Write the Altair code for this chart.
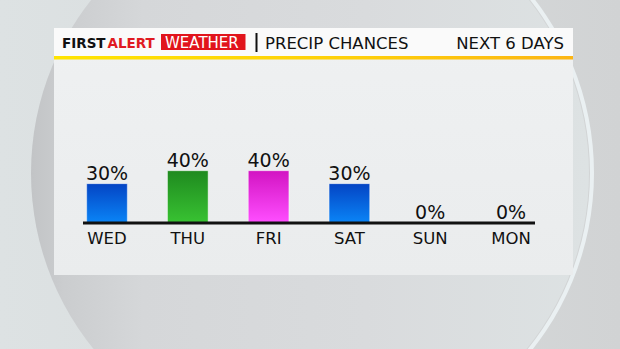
import altair as alt
import pandas as pd

# ---- data ----
days = ["WED", "THU", "FRI", "SAT", "SUN", "MON"]
chances = [30, 40, 40, 30, 0, 0]
color_group = ["blue", "green", "pink", "blue", "blue", "blue"]
brand_parts = ["FIRST", "ALERT", "WEATHER"]
title_text = "PRECIP CHANCES"
range_text = "NEXT 6 DAYS"

FONT = "DejaVu Sans"

df = pd.DataFrame({
    "day": days,
    "chance": chances,
    "label": [f"{c}%" for c in chances],
    "group": color_group,
})
one = pd.DataFrame({"k": [0]})


def grad(stops, horizontal=False):
    return alt.Gradient(
        gradient="linear",
        stops=[alt.GradientStop(color=c, offset=o) for o, c in stops],
        x1=0, y1=0,
        x2=1 if horizontal else 0,
        y2=0 if horizontal else 1,
    )


def box(x1, x2, y1, y2, fill):
    return alt.Chart(one).mark_rect(fill=fill).encode(
        x=alt.value(x1), x2=alt.value(x2), y=alt.value(y1), y2=alt.value(y2)
    )


def label(text, x, y, size, color="#111111", weight="normal", align="left"):
    return alt.Chart(one).mark_text(
        text=text, font=FONT, fontSize=size, fontWeight=weight, color=color,
        align=align, baseline="alphabetic",
    ).encode(x=alt.value(x), y=alt.value(y))


# ---- backdrop ----
background = box(0, 620, 0, 349, grad([(0, "#dde2e3"), (0.5, "#d8dcdd"), (1, "#d1d3d4")], True))

disc = alt.Chart(one).mark_arc(
    radius=279,
    fill=grad([(0, "#c2c4c6"), (0.06, "#cbcdcf"), (0.2, "#d5d7d9"),
               (0.6, "#d9dbdd"), (1, "#dde2e3")], True),
).encode(x=alt.value(310), y=alt.value(173),
         theta=alt.value(0), theta2=alt.value(6.2832))

rim = alt.Chart(one).mark_arc(
    radius=280, radius2=284,
    fill=grad([(0, "rgba(234,240,242,0)"), (0.6, "rgba(234,240,242,0)"),
               (0.85, "rgba(234,240,242,1)"), (1, "rgba(234,240,242,1)")], True),
).encode(x=alt.value(310), y=alt.value(173),
         theta=alt.value(0), theta2=alt.value(6.2832))

panel = box(54, 573, 28, 275, grad([(0, "#eff1f2"), (1, "#eaeced")]))
header = box(54, 573, 28, 56, "#fafafa")
stripe = box(54, 573, 56, 59.5, grad([(0, "#ffe400"), (0.6, "#fece0a"), (1, "#fcb514")], True))
red_box = box(161, 245.5, 34, 50, "#e1141c")
divider = box(255.5, 257.5, 33, 52, "#111111")

texts = [
    label(brand_parts[0], 62, 47.8, 13.5, weight="bold"),
    label(brand_parts[1], 107.5, 47.8, 13.5, color="#e01a22", weight="bold"),
    label(brand_parts[2], 165, 47.5, 15, color="#ffffff"),
    label(title_text, 265, 49, 16.5),
    label(range_text, 564, 49, 16.5, align="right"),
]

# ---- chart ----
x_scale = alt.Scale(domain=days, range=[66.6, 551.4], paddingInner=0.497, paddingOuter=0.2485)
y_scale = alt.Scale(domain=[0, 100], range=[222.5, 93])
x_enc = alt.X("day:N", sort=days, axis=None, scale=x_scale)
y_enc = alt.Y("chance:Q", axis=None, scale=y_scale)

bar_fills = {
    "blue": grad([(0, "#0444c4"), (1, "#0a84f6")]),
    "green": grad([(0, "#1f8a1f"), (1, "#38c232")]),
    "pink": grad([(0, "#d214c2"), (1, "#ff4eff")]),
}

base = alt.Chart(df)
bars = [
    base.transform_filter(alt.datum.group == g).transform_filter(alt.datum.chance > 0)
    .mark_bar(fill=f, stroke="#ffffff", strokeOpacity=0.45, strokeWidth=1)
    .encode(x=x_enc, y=y_enc)
    for g, f in bar_fills.items()
]

axis_line = alt.Chart(one).mark_rule(color="#111111", strokeWidth=3).encode(
    x=alt.value(83), x2=alt.value(535), y=alt.value(223)
)

value_labels = base.mark_text(
    font=FONT, fontSize=19, color="#111111", baseline="alphabetic", dy=-4
).encode(x=x_enc, y=y_enc, text="label:N")

day_labels = base.mark_text(
    font=FONT, fontSize=16.5, color="#111111", baseline="alphabetic"
).encode(x=x_enc, y=alt.value(244), text="day:N")

chart = alt.layer(
    background, disc, rim, panel, header, stripe, red_box, divider,
    *texts, *bars, axis_line, value_labels, day_labels,
).properties(
    width=620, height=349, autosize=alt.AutoSizeParams(type="none"), padding=0
).configure_view(stroke=None)

chart.save("out.html", embed_options={"renderer": "svg", "actions": False})
